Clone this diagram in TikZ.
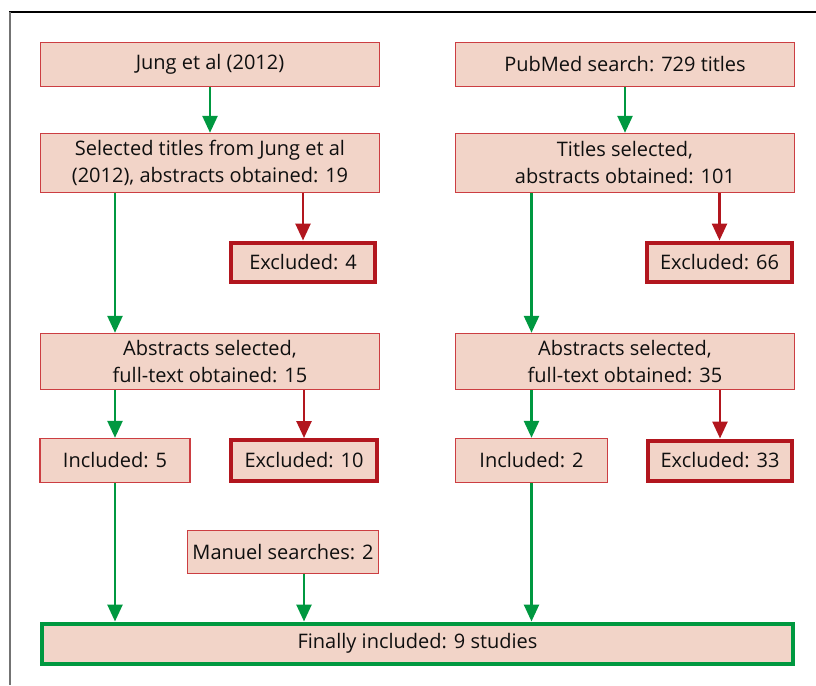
\documentclass[tikz,border=0pt]{standalone}
\usepackage{fontspec}
\setmainfont{Open Sans}
\usetikzlibrary{arrows.meta}
\definecolor{boxfill}{RGB}{242,212,200}
\definecolor{thinred}{RGB}{204,62,66}
\definecolor{deepred}{RGB}{178,22,30}
\definecolor{flowgreen}{RGB}{0,152,64}
\definecolor{txt}{RGB}{15,15,15}
\tikzset{
  base/.style={draw=thinred, line width=1.4pt, fill=boxfill, inner sep=0pt,
    align=center, text=txt, font=\fontsize{20}{27}\selectfont},
  stagebox/.style={base},
  dropbox/.style={base, draw=deepred, line width=4pt},
  finalbox/.style={base, draw=flowgreen, line width=4pt},
  keep/.style={draw=flowgreen, line width=2.6pt, -{Triangle[width=15pt,length=17pt]}},
  drop/.style={draw=deepred, line width=2.6pt, -{Triangle[width=15pt,length=17pt]}},
}
\begin{document}
\begin{tikzpicture}[x=1pt, y=-1pt]
\useasboundingbox (0,0) rectangle (816,685);
% page frame
\draw[line width=1.6pt, black] (9,12) -- (816,12);
\draw[line width=2pt, black!55] (9.5,12) -- (9.5,685);

% left column
\node[stagebox, minimum width=339pt, minimum height=44pt] (jung) at (210,64.5) {Jung et al (2012)};
\node[stagebox, minimum width=339pt, minimum height=59pt] (sel) at (210,163) {Selected titles from Jung et al\\(2012), abstracts obtained: 19};
\node[dropbox, minimum width=144pt, minimum height=39pt] (ex4) at (303,262) {Excluded: 4};
\node[stagebox, minimum width=339pt, minimum height=56pt] (abs) at (210,361.5) {Abstracts selected,\\full-text obtained: 15};
\node[stagebox, minimum width=150pt, minimum height=44pt] (inc5) at (115,460.5) {Included: 5};
\node[dropbox, minimum width=146pt, minimum height=41pt] (ex10) at (304,460.5) {Excluded: 10};
\node[stagebox, minimum width=191pt, minimum height=43pt] (man) at (283,552) {Manuel searches: 2};

% right column
\node[stagebox, minimum width=339pt, minimum height=44pt] (pub) at (625,64.5) {PubMed search: 729 titles};
\node[stagebox, minimum width=339pt, minimum height=59pt] (tsel) at (625,163) {Titles selected,\\abstracts obtained: 101};
\node[dropbox, minimum width=145pt, minimum height=39pt] (ex66) at (719.5,262) {Excluded: 66};
\node[stagebox, minimum width=339pt, minimum height=56pt] (tabs) at (625,361.5) {Abstracts selected,\\full-text obtained: 35};
\node[stagebox, minimum width=152pt, minimum height=44pt] (inc2) at (531.5,460.5) {Included: 2};
\node[dropbox, minimum width=144pt, minimum height=40pt] (ex33) at (720,460.5) {Excluded: 33};

% final
\node[finalbox, minimum width=751pt, minimum height=40pt] (fin) at (417.5,643.5) {Finally included: 9 studies};

% connectors
\draw[keep] (jung) -- (sel);
\draw[keep] (pub) -- (tsel);
\draw[drop] (sel.south -| ex4.north) -- (ex4.north);
\draw[drop] (tsel.south -| ex66.north) -- (ex66.north);
\draw[keep] (sel.south -| inc5.north) -- (abs.north -| inc5.north);
\draw[keep] (tsel.south -| inc2.north) -- (tabs.north -| inc2.north);
\draw[keep] (abs.south -| inc5.north) -- (inc5.north);
\draw[drop] (abs.south -| ex10.north) -- (ex10.north);
\draw[keep] (tabs.south -| inc2.north) -- (inc2.north);
\draw[drop] (tabs.south -| ex33.north) -- (ex33.north);
\draw[keep] (inc5.south) -- (fin.north -| inc5.south);
\draw[keep] (man.south -| ex10.south) -- (fin.north -| ex10.south);
\draw[keep] (inc2.south) -- (fin.north -| inc2.south);
\end{tikzpicture}
\end{document}
